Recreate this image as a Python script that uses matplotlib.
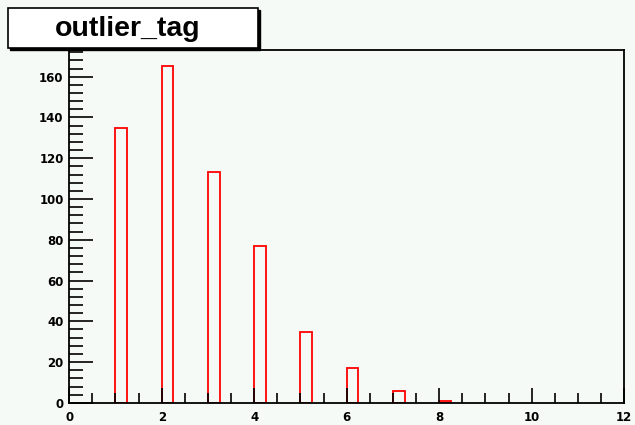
import matplotlib.pyplot as plt
from matplotlib.patches import Rectangle
from matplotlib.ticker import MultipleLocator

# Histogram data
bin_lefts = [1, 2, 3, 4, 5, 6, 7, 8]
counts = [135, 165, 113, 77, 35, 17, 6, 1]
bin_width = 0.25
title = "outlier_tag"

bg = '#f6faf7'
fig = plt.figure(figsize=(6.35, 4.25), dpi=100, facecolor=bg)
ax = fig.add_axes([0.109, 0.052, 0.874, 0.83], facecolor=bg)

ax.bar(bin_lefts, counts, width=bin_width, align='edge',
       facecolor='none', edgecolor='red', linewidth=1.3)

ax.set_xlim(0, 12)
ax.set_ylim(0, 173)
ax.xaxis.set_major_locator(MultipleLocator(2))
ax.xaxis.set_minor_locator(MultipleLocator(0.5))
ax.yaxis.set_major_locator(MultipleLocator(20))
ax.yaxis.set_minor_locator(MultipleLocator(4))
ax.tick_params(which='both', direction='in', top=False, right=False,
               width=1.2, color='black', labelsize=8.5)
ax.tick_params(axis='y', which='major', length=17, pad=4)
ax.tick_params(axis='y', which='minor', length=10)
ax.tick_params(axis='x', which='major', length=11, pad=6)
ax.tick_params(axis='x', which='minor', length=7)
for lab in ax.get_xticklabels() + ax.get_yticklabels():
    lab.set_fontweight('bold')
for s in ax.spines.values():
    s.set_linewidth(1.3)

# Title box with shadow, ROOT style
fig.patches.append(Rectangle((10 / 635, 1 - 50 / 425), 250 / 635, 40 / 425,
                             transform=fig.transFigure, facecolor='black',
                             edgecolor='black', zorder=5))
fig.patches.append(Rectangle((8 / 635, 1 - 48 / 425), 250 / 635, 40 / 425,
                             transform=fig.transFigure, facecolor='white',
                             edgecolor='black', linewidth=1.2, zorder=6))
fig.text(128 / 635, 1 - 29 / 425, title, ha='center', va='center',
         fontsize=20.5, fontweight='bold', family='Liberation Sans', zorder=7)

fig.savefig('out.png', dpi=100, facecolor=bg)
